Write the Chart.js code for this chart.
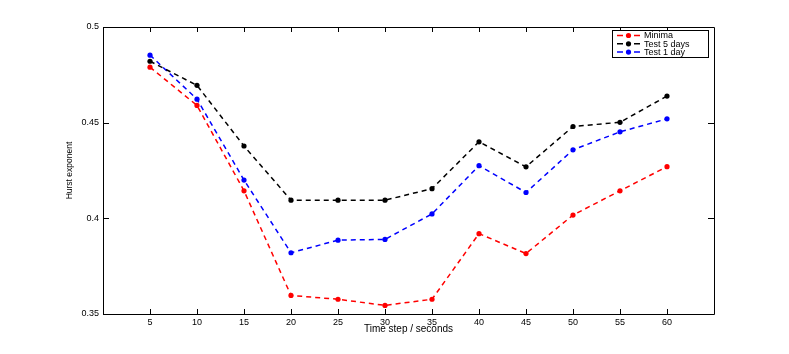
<!DOCTYPE html>
<html>
<head>
<meta charset="utf-8">
<script src="https://cdn.jsdelivr.net/npm/chart.js@4.4.1/dist/chart.umd.min.js"></script>
<style>
  html, body { margin: 0; padding: 0; background: #fff; }
  #wrap { width: 789px; height: 354px; }
</style>
</head>
<body>
<div id="wrap"><canvas id="hurst"></canvas></div>
<script>
const timeSteps = [5, 10, 15, 20, 25, 30, 35, 40, 45, 50, 55, 60];
const minima = [0.479, 0.459, 0.4144, 0.3597, 0.3577, 0.3545, 0.3577, 0.392, 0.3816, 0.4017, 0.4144, 0.427];
const test5days = [0.4821, 0.4695, 0.4378, 0.4095, 0.4095, 0.4095, 0.4155, 0.440, 0.4269, 0.448, 0.4502, 0.4639];
const test1day = [0.4853, 0.4623, 0.420, 0.382, 0.3886, 0.389, 0.4023, 0.4275, 0.4135, 0.4358, 0.4452, 0.452];
const yTicks = [0.35, 0.4, 0.45, 0.5];
const xTitle = 'Time step / seconds';
const yTitle = 'Hurst exponent';

const fam = 'Liberation Sans, Arial, sans-serif';
const font = { family: fam, size: 9 };

function series(label, values, color) {
    return {
        label: label,
        data: timeSteps.map((t, i) => ({ x: t, y: values[i] })),
        borderColor: color,
        backgroundColor: color,
        borderWidth: 1.5,
        borderDash: [5, 4],
        pointRadius: 2.6,
        pointHoverRadius: 2.6,
        pointBorderWidth: 0,
        tension: 0
    };
}

// box, inward ticks, axis titles and the legend in the matlab style
const matlabBox = {
    id: 'matlabBox',
    afterDraw(chart) {
        const ctx = chart.ctx;
        const a = chart.chartArea;
        const xs = chart.scales.x, ys = chart.scales.y;
        ctx.save();
        ctx.strokeStyle = '#000';
        ctx.lineWidth = 1;
        ctx.beginPath();
        ctx.rect(a.left + 0.5, a.top + 0.5, a.right - a.left, a.bottom - a.top);
        timeSteps.forEach(t => {
            const px = Math.round(xs.getPixelForValue(t)) + 0.5;
            ctx.moveTo(px, a.bottom); ctx.lineTo(px, a.bottom - 5);
            ctx.moveTo(px, a.top); ctx.lineTo(px, a.top + 5);
        });
        yTicks.forEach(v => {
            const py = Math.round(ys.getPixelForValue(v)) + 0.5;
            ctx.moveTo(a.left, py); ctx.lineTo(a.left + 6, py);
            ctx.moveTo(a.right, py); ctx.lineTo(a.right - 6, py);
        });
        ctx.stroke();

        // axis titles
        ctx.fillStyle = '#000';
        ctx.textAlign = 'center';
        ctx.textBaseline = 'middle';
        ctx.font = '10px ' + fam;
        ctx.fillText(xTitle, (a.left + a.right) / 2, a.bottom + 15);
        ctx.save();
        ctx.translate(70, (a.top + a.bottom) / 2);
        ctx.rotate(-Math.PI / 2);
        ctx.font = '8.5px ' + fam;
        ctx.fillText(yTitle, 0, 0);
        ctx.restore();

        // legend
        const lx = 612, ly = 30, lw = 96, lh = 27;
        ctx.fillStyle = '#fff';
        ctx.fillRect(lx, ly, lw, lh);
        ctx.strokeStyle = '#000';
        ctx.lineWidth = 1;
        ctx.strokeRect(lx + 0.5, ly + 0.5, lw, lh);
        ctx.font = '9px ' + fam;
        ctx.textAlign = 'left';
        chart.data.datasets.forEach((ds, i) => {
            const cy = ly + 5.5 + i * 8.3;
            ctx.strokeStyle = ds.borderColor;
            ctx.lineWidth = 1.5;
            ctx.beginPath();
            ctx.moveTo(lx + 5, cy); ctx.lineTo(lx + 11, cy);
            ctx.moveTo(lx + 22, cy); ctx.lineTo(lx + 28, cy);
            ctx.stroke();
            ctx.fillStyle = ds.borderColor;
            ctx.beginPath();
            ctx.arc(lx + 16.5, cy, 2.6, 0, Math.PI * 2);
            ctx.fill();
            ctx.fillStyle = '#000';
            ctx.fillText(ds.label, lx + 32, cy + 0.5);
        });
        ctx.restore();
    }
};

new Chart(document.getElementById('hurst'), {
    type: 'line',
    data: {
        datasets: [
            series('Minima', minima, '#ff0000'),
            series('Test 5 days', test5days, '#000000'),
            series('Test 1 day', test1day, '#0000ff')
        ]
    },
    options: {
        responsive: true,
        maintainAspectRatio: false,
        animation: false,
        layout: { padding: { top: 27, right: 75, left: 0, bottom: 0 } },
        plugins: { legend: { display: false }, tooltip: { enabled: false } },
        scales: {
            x: {
                type: 'linear',
                min: 0,
                max: 65,
                afterBuildTicks: (s) => { s.ticks = timeSteps.map(v => ({ value: v })); },
                afterFit: (s) => { s.height = 40; },
                grid: { display: false, drawTicks: false },
                border: { display: false },
                ticks: { color: '#000', font: font, padding: 3, maxRotation: 0 }
            },
            y: {
                min: 0.35,
                max: 0.5,
                afterBuildTicks: (s) => { s.ticks = yTicks.map(v => ({ value: v })); },
                afterFit: (s) => { s.width = 103; },
                grid: { display: false, drawTicks: false },
                border: { display: false },
                ticks: { color: '#000', font: font, padding: 4, callback: (v) => String(+v.toFixed(2)) }
            }
        }
    },
    plugins: [matlabBox]
});
</script>
</body>
</html>
